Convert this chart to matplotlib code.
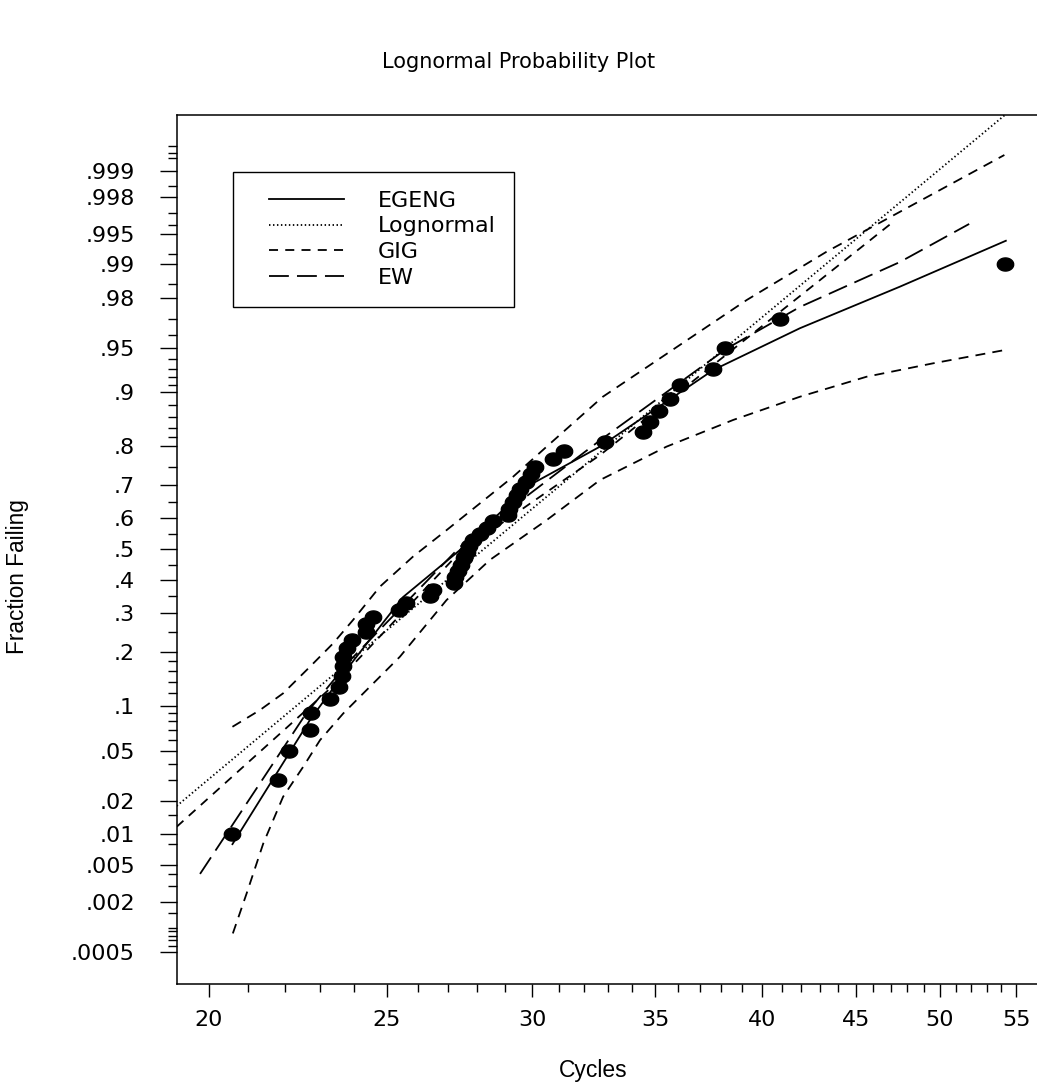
import numpy as np
import matplotlib
matplotlib.use("Agg")
import matplotlib.pyplot as plt
from matplotlib.lines import Line2D
from matplotlib.legend_handler import HandlerLine2D
from statistics import NormalDist

ND = NormalDist()

# observed failures (cycles) and their plotting positions
cycles = [20.60, 21.81, 22.12, 22.70, 22.73, 23.27, 23.53, 23.62, 23.65, 23.67,
          23.77, 23.92, 24.35, 24.36, 24.57, 25.39, 25.60, 26.40, 26.50, 27.19,
          27.22, 27.33, 27.44, 27.53, 27.63, 27.70, 27.84, 28.08, 28.33, 28.56,
          29.10, 29.15, 29.27, 29.42, 29.55, 29.76, 29.94, 30.10, 30.77, 31.20,
          32.85, 34.46, 34.78, 35.14, 35.66, 36.08, 37.63, 38.20, 40.94, 54.23]
frac = [.01, .03, .05, .07, .09, .11, .13, .15, .17, .19,
        .21, .23, .25, .27, .29, .31, .33, .35, .37, .39,
        .41, .43, .45, .47, .49, .51, .53, .55, .57, .59,
        .61, .63, .65, .67, .69, .71, .73, .75, .77, .79,
        .81, .83, .85, .87, .89, .91, .93, .95, .97, .99]

# fitted curves
egeng_x = [20.60, 22.70, 23.87, 25.51, 27.39, 29.90, 32.65, 37.63, 41.95, 47.54, 54.3]
egeng_p = [.0080, .0815, .172, .348, .497, .700, .799, .9284, .9645, .9840, .99413]

logn_x = [19.21, 28.22, 54.3]
logn_p = [.0180, .5, .99981]

gig_x = [19.21, 23.36, 27.39, 32.65, 47.05]
gig_p = [.0117, .1318, .49, .779, .99613]

ew_x = [19.78, 22.60, 23.87, 27.39, 32.65, 38.26, 41.95, 47.54, 51.86]
ew_p = [.0040, .0904, .182, .507, .813, .9493, .9761, .9905, .99606]

# confidence bands
upper_x = [20.60, 21.32, 21.95, 22.70, 23.37, 23.96, 24.78, 25.83, 26.94, 28.09,
           29.28, 30.54, 31.71, 32.77, 39.24, 43.38, 54.2]
upper_p = [.0735, .0944, .1196, .1685, .2210, .2816, .3798, .476, .562, .646,
           .723, .799, .8545, .8936, .9791, .99247, .99936]
lower_x = [20.61, 20.97, 21.41, 21.95, 22.51, 22.99, 23.67, 24.37, 25.41, 26.94,
           28.44, 30.54, 32.65, 35.49, 38.58, 41.95, 45.60, 49.57, 54.2]
lower_p = [.00085, .00247, .0081, .0216, .0378, .0595, .090, .125, .190, .3391,
           .465, .594, .714, .799, .8545, .8936, .9206, .9356, .9481]

# axis ticks
x_major = [20, 25, 30, 35, 40, 45, 50, 55]
x_minor = [21, 22, 23, 24, 26, 27, 28, 29, 31, 32, 33, 34, 36, 37, 38, 39,
           41, 42, 43, 44, 46, 47, 48, 49, 51, 52, 53, 54]
y_major = [.0005, .002, .005, .01, .02, .05, .1, .2, .3, .4, .5, .6, .7, .8,
           .9, .95, .98, .99, .995, .998, .999]
y_labels = ['.0005', '.002', '.005', '.01', '.02', '.05', '.1', '.2', '.3', '.4',
            '.5', '.6', '.7', '.8', '.9', '.95', '.98', '.99', '.995', '.998', '.999']
y_minor = [.0006, .0007, .0008, .0009, .001, .0015, .003, .004, .008, .015,
           .03, .04, .06, .07, .08, .09, .12, .14, .16, .18, .25, .35, .45,
           .55, .65, .75, .82, .84, .86, .88, .91, .92, .93, .94, .96, .97,
           .985, .992, .996, .997, .9985, .9993, .9994, .9995]


def probit(p):
    p = np.clip(np.asarray(p, dtype=float), 1e-9, 1 - 1e-9)
    return np.vectorize(ND.inv_cdf, otypes=[float])(p)


def probit_inv(z):
    z = np.asarray(z, dtype=float)
    return np.vectorize(ND.cdf, otypes=[float])(z)


plt.rcParams['font.family'] = ['DejaVu Sans']
FS = 16

fig = plt.figure(figsize=(10.37, 10.82), dpi=100)
ax = fig.add_axes([0.1704, 0.0906, 0.8369, 0.8031])
ax.set_xscale('log')
ax.set_yscale('function', functions=(probit, probit_inv))

lw = 1.3
l1, = ax.plot(egeng_x, egeng_p, color='black', lw=lw, label='EGENG')
l2, = ax.plot(logn_x, logn_p, color='black', lw=lw, dashes=(0.8, 1.4), label='Lognormal')
l3, = ax.plot(gig_x, gig_p, color='black', lw=lw, dashes=(5.0, 4.0), label='GIG')
l4, = ax.plot(ew_x, ew_p, color='black', lw=lw, dashes=(11.0, 4.5), label='EW')
ax.plot(upper_x, upper_p, color='black', lw=lw, dashes=(5.5, 4.0))
ax.plot(lower_x, lower_p, color='black', lw=lw, dashes=(5.5, 4.0))

th = np.linspace(0, 2 * np.pi, 40)
ell = list(zip(np.cos(th), 0.8 * np.sin(th)))
ax.plot(cycles, frac, ls='none', marker=ell, ms=11.8, color='black', zorder=5)

ax.set_xlim(19.21, 57)
ax.set_ylim(ND.cdf(-3.551), ND.cdf(3.547))

ax.xaxis.set_major_locator(matplotlib.ticker.FixedLocator(x_major))
ax.xaxis.set_minor_locator(matplotlib.ticker.FixedLocator(x_minor))
ax.xaxis.set_major_formatter(matplotlib.ticker.FixedFormatter([str(v) for v in x_major]))
ax.xaxis.set_minor_formatter(matplotlib.ticker.NullFormatter())
ax.set_yticks(y_major, labels=y_labels)
ax.set_yticks(y_minor, minor=True)
ax.yaxis.set_minor_formatter(matplotlib.ticker.NullFormatter())

ax.tick_params(axis='x', which='major', length=9.4, width=1.0, labelsize=FS, pad=9)
ax.tick_params(axis='x', which='minor', length=5.8, width=1.0)
ax.tick_params(axis='y', which='major', length=12, width=1.0, labelsize=FS, pad=18)
ax.tick_params(axis='y', which='minor', length=6.5, width=1.0)
for s in ax.spines.values():
    s.set_linewidth(1.1)

leg = ax.legend(handles=[l1, l2, l3, l4], loc='upper left',
                bbox_to_anchor=(0.0645, 0.9347), borderaxespad=0,
                fontsize=FS, handlelength=4.17, handletextpad=1.5,
                borderpad=0.85, labelspacing=0.26, fancybox=False,
                framealpha=1, edgecolor='black',
                handler_map={Line2D: HandlerLine2D(xpad=0.78)})
leg.get_frame().set_linewidth(1.0)

fig.text(0.5, 1 - 62 / 1082, 'Lognormal Probability Plot', ha='center', va='center', fontsize=15)
fig.text(18 / 1037, 1 - 577 / 1082, 'Fraction Failing', rotation=90, ha='center', va='center',
         fontsize=16.3, family=['Liberation Sans', 'DejaVu Sans'])
fig.text(593 / 1037, 1 - 1070 / 1082, 'Cycles', ha='center', va='center', fontsize=16.5,
         family=['Liberation Sans', 'DejaVu Sans'])

fig.savefig('out.png', dpi=100)
